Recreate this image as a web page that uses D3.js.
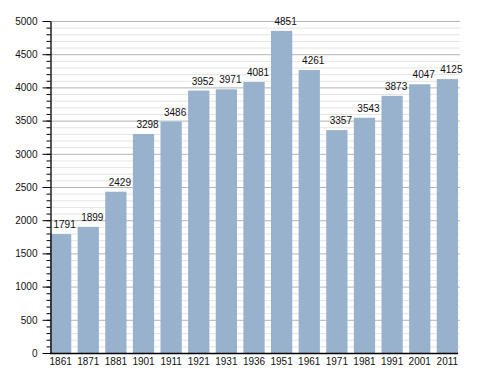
<!DOCTYPE html>
<html>
<head>
<meta charset="utf-8">
<script src="https://cdn.jsdelivr.net/npm/d3@7"></script>
<style>
  body { margin: 0; background: #fff; }
  text { font-family: "Liberation Sans", Arial, sans-serif; }
</style>
</head>
<body>
<div id="chart"></div>
<script>
// census years and population
var years = ["1861", "1871", "1881", "1901", "1911", "1921", "1931", "1936",
  "1951", "1961", "1971", "1981", "1991", "2001", "2011"];
var population = [1791, 1899, 2429, 3298, 3486, 3952, 3971, 4081,
  4851, 4261, 3357, 3543, 3873, 4047, 4125];
var yTicks = [0, 500, 1000, 1500, 2000, 2500, 3000, 3500, 4000, 4500, 5000];

var width = 488, height = 373;
var margin = { top: 21, right: 30, bottom: 20, left: 50 };
var fontSize = "10px";

var svg = d3.select("#chart").append("svg")
  .attr("width", width)
  .attr("height", height);

var x = d3.scaleBand()
  .domain(years)
  .range([margin.left, width - margin.right])
  .paddingInner(0.23)
  .paddingOuter(0);

var y = d3.scaleLinear()
  .domain([0, 5000])
  .range([height - margin.bottom, margin.top]);

// minor grid every 100
svg.append("g")
  .selectAll("line")
  .data(d3.range(100, 5001, 100).filter(function (d) { return d % 500 != 0; }))
  .enter().append("line")
  .attr("x1", margin.left).attr("x2", width - margin.right + 2)
  .attr("y1", function (d) { return y(d) + 0.5; })
  .attr("y2", function (d) { return y(d) + 0.5; })
  .style("stroke", "#e4e4e4");

// major grid every 500
svg.append("g")
  .selectAll("line")
  .data(yTicks.slice(1))
  .enter().append("line")
  .attr("x1", margin.left).attr("x2", width - margin.right + 2)
  .attr("y1", function (d) { return y(d) + 0.5; })
  .attr("y2", function (d) { return y(d) + 0.5; })
  .style("stroke", "#b4b4b4");

// bars
svg.append("g")
  .selectAll("rect")
  .data(population)
  .enter().append("rect")
  .attr("x", function (d, i) { return x(years[i]); })
  .attr("y", function (d) { return y(d); })
  .attr("width", x.bandwidth())
  .attr("height", function (d) { return y(0) - y(d); })
  .style("fill", "#98b1cd");

// value labels
svg.append("g")
  .selectAll("text")
  .data(population)
  .enter().append("text")
  .attr("x", function (d, i) { return x(years[i]) + x.bandwidth() / 2 + 4; })
  .attr("y", function (d) { return y(d) - 6; })
  .attr("text-anchor", "middle")
  .style("font-size", fontSize)
  .style("fill", "#111")
  .text(function (d) { return d; });

// y axis with minor ticks
var yAxis = svg.append("g")
  .attr("transform", "translate(" + (margin.left + 0.5) + ",0)");
yAxis.call(d3.axisLeft(y).tickValues(d3.range(0, 5001, 100)).tickSize(4).tickFormat(""));
yAxis.call(function (g) {
  g.selectAll(".tick line").style("stroke", "#000");
  g.select(".domain").remove();
});
var yMajor = svg.append("g")
  .attr("transform", "translate(" + (margin.left + 0.5) + ",0)")
  .call(d3.axisLeft(y).tickValues(yTicks).tickSize(8).tickPadding(5)
    .tickSizeOuter(0).tickFormat(d3.format("d")));
yMajor.selectAll("text").style("font-size", fontSize).style("fill", "#111")
  .style("font-family", "'Liberation Sans', Arial, sans-serif");
yMajor.selectAll(".tick line").style("stroke", "#000");
yMajor.select(".domain").style("stroke", "#000").style("stroke-width", 1.3);

// x axis
var xAxis = svg.append("g")
  .attr("transform", "translate(0," + (y(0) + 0.5) + ")")
  .call(d3.axisBottom(x).tickSize(0).tickPadding(4).tickSizeOuter(0));
xAxis.selectAll("text").style("font-size", fontSize).style("fill", "#111")
  .style("font-family", "'Liberation Sans', Arial, sans-serif");
xAxis.select(".domain").style("stroke", "#000").style("stroke-width", 1.3)
  .attr("d", "M" + margin.left + ",0H" + (width - margin.right));
</script>
</body>
</html>
